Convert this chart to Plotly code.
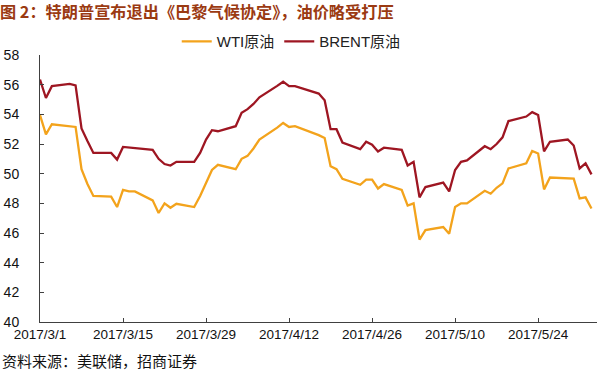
import plotly.graph_objects as go
import pandas as pd

dates = (
    ["2017-03-%02d" % d for d in [1, 2, 3, 6, 7, 8, 9, 10, 13, 14, 15, 16, 17, 20, 21, 22, 23, 24, 27, 28, 29, 30, 31]]
    + ["2017-04-%02d" % d for d in [3, 4, 5, 6, 7, 10, 11, 12, 13, 14, 17, 18, 19, 20, 21, 24, 25, 26, 27, 28]]
    + ["2017-05-%02d" % d for d in [1, 2, 3, 4, 5, 8, 9, 10, 11, 12, 15, 16, 17, 18, 19, 22, 23, 24, 25, 26, 29, 30, 31]]
    + ["2017-06-%02d" % d for d in [1, 2]]
)

brent = [
    56.35, 55.1, 55.9, 56.05, 55.95, 53.05, 52.2, 51.4, 51.4, 50.95, 51.8, 51.75, 51.7, 51.6, 51.0, 50.65, 50.55, 50.8, 50.8, 51.4, 52.3, 52.93, 52.86,
    53.2, 54.1, 54.35, 54.7, 55.15, 55.92, 56.2, 55.9, 55.9, None, 55.4, 54.95, 53.0, 53.0, 52.1, 51.65, 52.15, 51.95, 51.5, 51.75,
    51.6, 50.55, 50.8, 48.4, 49.1, 49.4, 48.8, 50.25, 50.8, 50.9, 51.85, 51.65, 52.0, 52.45, 53.55, 53.85, 54.15, 53.95, 51.5, 52.15, 52.3, 51.9, 50.35,
    50.7, 49.95,
]

wti = [
    53.95, 52.65, 53.33, 53.2, 53.15, 50.3, 49.3, 48.5, 48.45, 47.75, 48.9, 48.8, 48.8, 48.2, 47.35, 48.0, 47.7, 47.97, 47.75, 48.5, 49.37, 50.25, 50.6,
    50.3, 51.0, 51.2, 51.7, 52.3, 53.1, 53.42, 53.15, 53.2, None, 52.6, 52.4, 50.5, 50.3, 49.65, 49.25, 49.6, 49.6, 49.0, 49.3,
    48.9, 47.85, 48.0, 45.55, 46.2, 46.4, 45.95, 47.75, 48.0, 48.0, 48.85, 48.65, 49.05, 49.35, 50.35, 50.7, 51.53, 51.36, 48.94, 49.74, None, 49.67, 48.33,
    48.4, 47.65,
]

series_names = ["WTI原油", "BRENT原油"]
title_text = "图 2：特朗普宣布退出《巴黎气候协定》，油价略受打压"
source_text = "资料来源：美联储，招商证券"

x = pd.to_datetime(dates)

fig = go.Figure()
fig.add_trace(go.Scatter(x=x, y=wti, name=series_names[0], mode="lines",
                         line=dict(color="#F3A31C", width=2.3), connectgaps=True))
fig.add_trace(go.Scatter(x=x, y=brent, name=series_names[1], mode="lines",
                         line=dict(color="#9E1622", width=2.3), connectgaps=True))

axis_color = "#404040"
fig.update_layout(
    width=597, height=372,
    margin=dict(l=40, r=0, t=54.5, b=50, autoexpand=False),
    paper_bgcolor="white", plot_bgcolor="white",
    font=dict(family="Liberation Sans, Arial, Noto Sans CJK SC", color="#222222"),
    title=dict(text="<b>" + title_text + "</b>", xref="container", x=0.0, xanchor="left",
               yref="container", y=0.968, yanchor="middle",
               font=dict(family="Noto Sans CJK SC", size=16.2, color="#9B3A12")),
    legend=dict(orientation="h", x=0.2455, xanchor="left", y=1.05, yanchor="middle",
                font=dict(family="Liberation Sans, Noto Sans CJK SC", size=15, color="#222222"),
                bgcolor="rgba(0,0,0,0)", itemwidth=30, tracegroupgap=0),
    showlegend=True,
)

fig.update_xaxes(
    type="date",
    range=["2017-03-01", "2017-06-02 22:19"],
    tick0="2017-03-01", dtick=14 * 86400000,
    tickformat="%Y/%-m/%-d",
    ticks="inside", ticklen=4, tickcolor=axis_color,
    showline=True, linecolor=axis_color, linewidth=1,
    showgrid=False, zeroline=False, automargin=False,
    tickfont=dict(family="Liberation Sans, Arial", size=13.5, color="#111111"),
)
fig.update_yaxes(
    range=[40, 58], dtick=2, tick0=40,
    ticks="inside", ticklen=4, tickcolor=axis_color,
    showline=True, linecolor=axis_color, linewidth=1,
    showgrid=False, zeroline=False, automargin=False,
    ticklabelstandoff=17,
    tickfont=dict(family="Liberation Sans, Arial", size=14, color="#111111"),
)

fig.add_annotation(text=source_text, xref="paper", yref="paper",
                   x=-40 / 557, y=(322 - 361) / 267.5, xanchor="left", yanchor="middle",
                   showarrow=False,
                   font=dict(family="Noto Sans CJK SC", size=15, color="#111111"))

fig.write_html("out.html", config={"displayModeBar": False},
               post_script="document.body.style.margin='0';document.body.style.padding='0';")
